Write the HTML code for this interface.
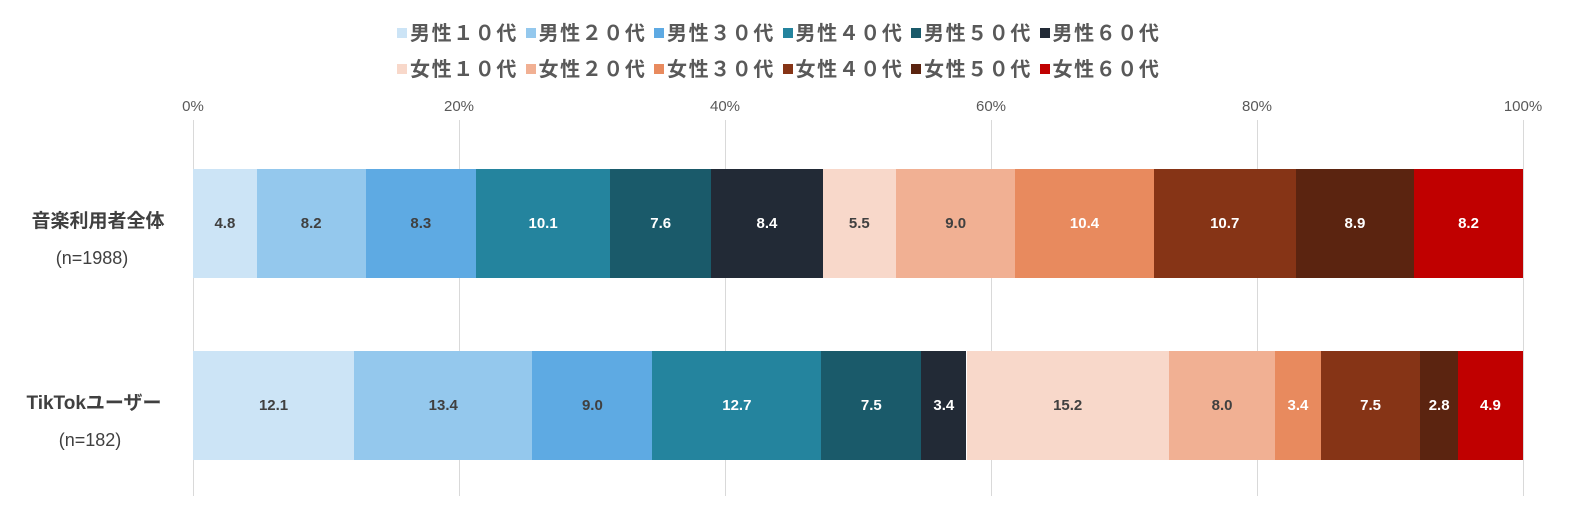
<!DOCTYPE html>
<html><head><meta charset="utf-8">
<style>
body{margin:0;width:1570px;height:520px;background:#fff;position:relative;overflow:hidden;font-family:"Liberation Sans","Noto Sans CJK JP",sans-serif;}
.g{position:absolute;top:120px;height:376px;width:1px;background:#d9d9d9;}
.t{position:absolute;top:98px;font-size:15px;color:#595959;width:60px;text-align:center;}
.seg{position:absolute;display:flex;align-items:center;justify-content:center;font-size:15px;font-weight:bold;}
.lg{position:absolute;font-size:20px;color:#595959;font-weight:bold;letter-spacing:1.6px;white-space:nowrap;}
.sq{display:inline-block;width:10px;height:10px;margin-right:3px;vertical-align:2px;}
.cat{position:absolute;font-size:19px;color:#404040;text-align:center;width:180px;line-height:30px;}
</style></head><body>
<div id="root"></div>
<div class="cat" style="left:8px;top:207px;font-weight:bold">音楽利用者全体</div>
<div class="cat" style="left:2px;top:243px;font-size:18px">(n=1988)</div>
<div class="cat" style="left:4px;top:389px;font-weight:bold">TikTokユーザー</div>
<div class="cat" style="left:0px;top:425px;font-size:18px">(n=182)</div>
<script>
var r=document.getElementById('root'),h='';
var x0=193,W=1330;
for(var i=0;i<=5;i++){var x=x0+W*i/5;h+='<div class="g" style="left:'+Math.round(x)+'px"></div><div class="t" style="left:'+(Math.round(x)-30)+'px">'+(i*20)+'%</div>';}
var cols=['#cce4f6','#94c8ed','#5eaae3','#24849e','#1a5a6a','#222a36','#f8d8ca','#f1b093','#e88a5e','#863416','#5b2410','#c00000'];
var tc=['#404040','#404040','#404040','#fff','#fff','#fff','#404040','#404040','#fff','#fff','#fff','#fff'];
var rows=[[4.8,8.2,8.3,10.1,7.6,8.4,5.5,9.0,10.4,10.7,8.9,8.2],[12.1,13.4,9.0,12.7,7.5,3.4,15.2,8.0,3.4,7.5,2.8,4.9]];
var ys=[169,351];
rows.forEach(function(v,k){var s=v.reduce(function(a,b){return a+b},0),c=0;
v.forEach(function(d,j){var l=x0+W*c/s;c+=d;var rr=x0+W*c/s;
h+='<div class="seg" style="left:'+l+'px;width:'+(rr-l)+'px;top:'+ys[k]+'px;height:109px;background:'+cols[j]+';color:'+tc[j]+'">'+d.toFixed(1)+'</div>';});});
var lab=['男性１０代','男性２０代','男性３０代','男性４０代','男性５０代','男性６０代','女性１０代','女性２０代','女性３０代','女性４０代','女性５０代','女性６０代'];
for(var j=0;j<12;j++){var row=Math.floor(j/6),col=j%6;
h+='<div class="lg" style="left:'+(397+col*128.5)+'px;top:'+(row?53:17)+'px"><span class="sq" style="background:'+cols[j]+'"></span>'+lab[j]+'</div>';}
r.innerHTML=h;
</script>
</body></html>
